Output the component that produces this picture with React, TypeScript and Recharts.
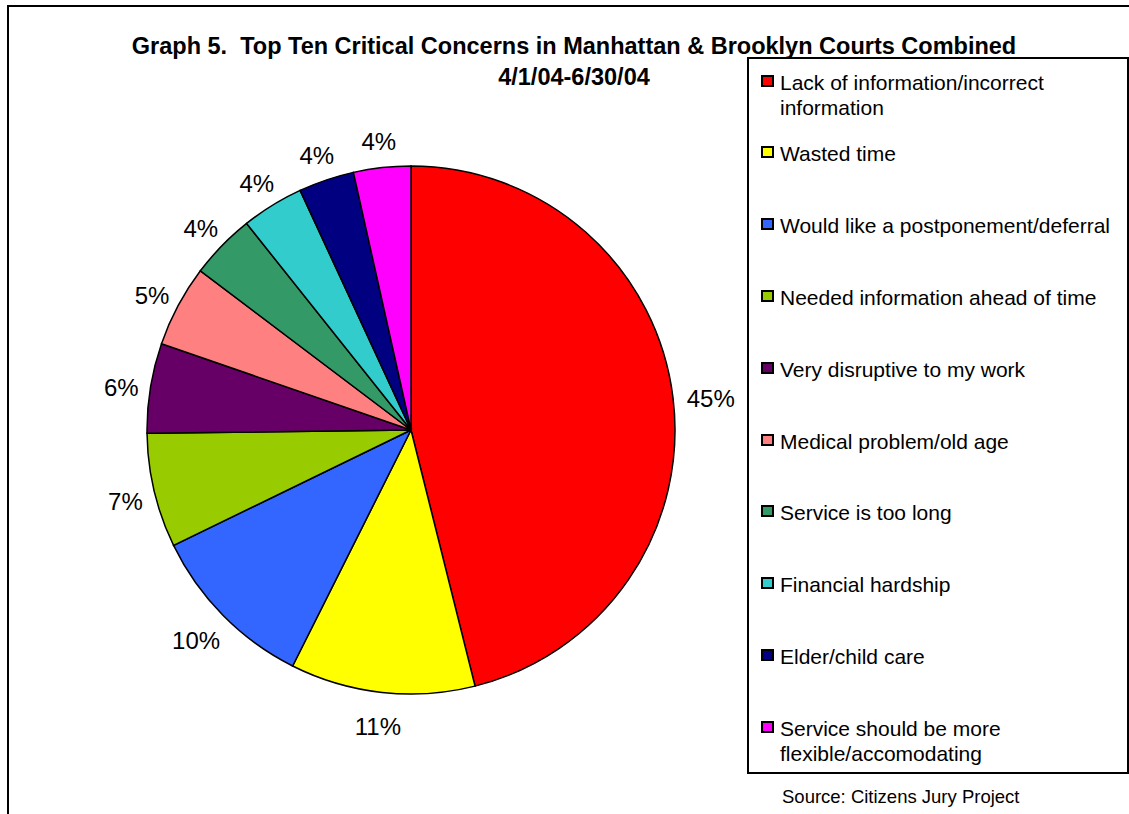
import React from 'react';
import { PieChart, Pie, Cell, Legend } from 'recharts';

const categories = [
  'Lack of information/incorrect information',
  'Wasted time',
  'Would like a postponement/deferral',
  'Needed information ahead of time',
  'Very disruptive to my work',
  'Medical problem/old age',
  'Service is too long',
  'Financial hardship',
  'Elder/child care',
  'Service should be more flexible/accomodating',
];
const values = [46.1, 11.3, 10.4, 7.0, 5.5, 5.0, 4.0, 3.8, 3.4, 3.5];
const pctLabels = ['45%', '11%', '10%', '7%', '6%', '5%', '4%', '4%', '4%', '4%'];
const colors = [
  '#FF0000',
  '#FFFF00',
  '#3366FF',
  '#99CC00',
  '#660066',
  '#FF8080',
  '#339966',
  '#33CCCC',
  '#000080',
  '#FF00FF',
];
const titleLines = [
  'Graph 5.  Top Ten Critical Concerns in Manhattan & Brooklyn Courts Combined',
  '4/1/04-6/30/04',
];
const sourceText = 'Source: Citizens Jury Project';

const data = categories.map((name, i) => ({ name, value: values[i], label: pctLabels[i] }));

const FONT = '"Liberation Sans", Arial, Helvetica, sans-serif';
const RAD = Math.PI / 180;

const renderLabel = (props: any) => {
  const { cx, cy, midAngle, outerRadius, index } = props;
  const c = Math.cos(-midAngle * RAD);
  const s = Math.sin(-midAngle * RAD);
  const text = pctLabels[index];
  const w = text.length === 3 ? 48 : 31;
  const x = cx + (outerRadius + 14) * c + (w / 2) * c;
  const y = cy + (outerRadius + 14) * s + 16 * s + 4;
  return (
    <text
      x={x}
      y={y}
      textAnchor="middle"
      dominantBaseline="central"
      fontSize={24}
      fontFamily={FONT}
      fill="#000"
    >
      {text}
    </text>
  );
};

const LegendBox = () => {
  return (
    <div
      style={{
        position: 'absolute',
        left: 0,
        top: 0,
        width: '100%',
        height: '100%',
        border: '2px solid #000',
        boxSizing: 'border-box',
        background: '#fff',
        fontFamily: FONT,
      }}
    >
      {categories.map((name, i) => {
        const center = 82 + i * 71.8;
        return (
          <React.Fragment key={name}>
            <div
              style={{
                position: 'absolute',
                left: 12,
                top: center - 7.5 - 59,
                width: 13,
                height: 12,
                boxSizing: 'border-box',
                border: '2px solid #000',
                background: colors[i],
              }}
            />
            <div
              style={{
                position: 'absolute',
                left: 31,
                top: center - 12.5 - 59,
                width: 345,
                fontSize: 21,
                lineHeight: '25px',
                color: '#000',
              }}
            >
              {name}
            </div>
          </React.Fragment>
        );
      })}
    </div>
  );
};

export default function App() {
  return (
    <div style={{ position: 'absolute', left: 0, top: 0, width: 1129, height: 814, overflow: 'hidden', background: '#fff' }}>
      <div
        style={{
          position: 'absolute',
          left: 7,
          top: 5,
          width: 1130,
          height: 820,
          borderTop: '2px solid #000',
          borderLeft: '2px solid #000',
          boxSizing: 'border-box',
        }}
      />
      <div style={{ position: 'absolute', left: 0, top: 0 }}>
        <PieChart width={1129} height={814} margin={{ top: 0, right: 0, bottom: 0, left: 0 }}>
          <Pie
            data={data}
            dataKey="value"
            nameKey="name"
            cx={411}
            cy={430}
            outerRadius={264}
            startAngle={90}
            endAngle={-270}
            stroke="#000"
            strokeWidth={1.5}
            label={renderLabel}
            labelLine={false}
            isAnimationActive={false}
          >
            {data.map((d, i) => (
              <Cell key={d.name} fill={colors[i]} />
            ))}
          </Pie>
          <Legend
            content={<LegendBox />}
            wrapperStyle={{ position: 'absolute', left: 747, top: 57, width: 382, height: 717 }}
          />
        </PieChart>
      </div>
      <div
        style={{
          position: 'absolute',
          left: 74,
          top: 31,
          width: 1000,
          textAlign: 'center',
          fontFamily: FONT,
          fontWeight: 'bold',
          fontSize: 23.5,
          lineHeight: '30.5px',
          whiteSpace: 'pre',
          color: '#000',
        }}
      >
        {titleLines.map((t, i) => (
          <div key={i}>{t}</div>
        ))}
      </div>
      <div
        style={{
          position: 'absolute',
          left: 782,
          top: 786,
          fontFamily: FONT,
          fontSize: 18.5,
          lineHeight: '22px',
          color: '#000',
          whiteSpace: 'nowrap',
        }}
      >
        {sourceText}
      </div>
    </div>
  );
}
